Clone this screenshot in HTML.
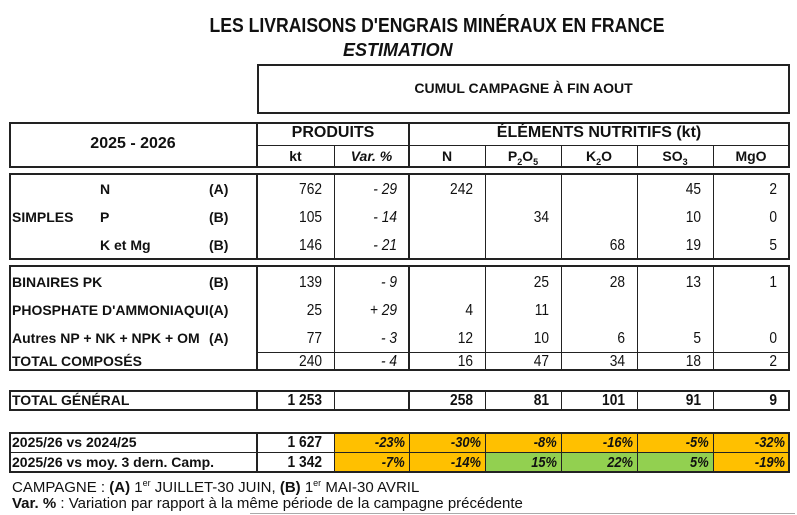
<!DOCTYPE html>
<html><head><meta charset="utf-8">
<style>
body{margin:0;width:797px;height:515px;background:#fff;position:relative;overflow:hidden;font-family:"Liberation Sans",sans-serif;color:#111}
.box{position:absolute;border:2px solid #222;box-sizing:border-box}
.vl{position:absolute;background:#222;width:1px}
.vt{position:absolute;background:#222;width:2px}
.hl{position:absolute;background:#222;height:1px}
.t{position:absolute;font-size:14px;line-height:16px;white-space:nowrap}
.b{font-weight:bold}
.c{text-align:center}
.r{text-align:right}
.i{font-style:italic}
.num{font-size:16px;transform:scaleX(0.86);transform-origin:right center}
sup{font-size:9px;line-height:0;vertical-align:6px}
.cell{position:absolute;box-sizing:border-box;font-size:15px;line-height:21px;text-align:right;padding-right:4px;font-weight:bold;font-style:italic}
.cell span{display:inline-block;transform:scaleX(0.86);transform-origin:right center}
</style></head><body>
<div class="t b c" style="left:150px;width:574px;top:15px;font-size:20px;line-height:22px;transform:scaleX(0.88)">LES LIVRAISONS D'ENGRAIS MINÉRAUX EN FRANCE</div>
<div class="t b i" style="left:343px;top:40px;font-size:18px;line-height:20px">ESTIMATION</div>
<div class="box" style="left:257px;top:64px;width:533px;height:50px"></div>
<div class="t b c" style="left:257px;width:533px;top:80px">CUMUL CAMPAGNE À FIN AOUT</div>

<div class="box" style="left:9px;top:122px;width:781px;height:46px"></div>
<div class="vt" style="left:256px;top:122px;height:46px"></div>
<div class="vt" style="left:408px;top:122px;height:46px"></div>
<div class="hl" style="left:257px;top:145px;width:532px"></div>
<div class="vl" style="left:334px;top:145px;height:22px"></div>
<div class="vl" style="left:485px;top:145px;height:22px"></div>
<div class="vl" style="left:561px;top:145px;height:22px"></div>
<div class="vl" style="left:637px;top:145px;height:22px"></div>
<div class="vl" style="left:713px;top:145px;height:22px"></div>
<div class="t b c" style="left:9px;width:248px;top:136px;font-size:16px">2025 - 2026</div>
<div class="t b c" style="left:257px;width:152px;top:125px;font-size:16px">PRODUITS</div>
<div class="t b c" style="left:409px;width:380px;top:125px;font-size:16px">ÉLÉMENTS NUTRITIFS (kt)</div>
<div class="t b c" style="left:257px;width:77px;top:148px">kt</div>
<div class="t b c i" style="left:334px;width:75px;top:148px">Var. %</div>
<div class="t b c" style="left:409px;width:76px;top:148px">N</div>
<div class="t b c" style="left:485px;width:76px;top:148px">P<sub style="font-size:9px">2</sub>O<sub style="font-size:9px">5</sub></div>
<div class="t b c" style="left:561px;width:76px;top:148px">K<sub style="font-size:9px">2</sub>O</div>
<div class="t b c" style="left:637px;width:76px;top:148px">SO<sub style="font-size:9px">3</sub></div>
<div class="t b c" style="left:713px;width:76px;top:148px">MgO</div>

<div class="box" style="left:9px;top:173px;width:781px;height:87px"></div>
<div class="vt" style="left:256px;top:173px;height:87px"></div>
<div class="vt" style="left:408px;top:173px;height:87px"></div>
<div class="vl" style="left:334px;top:173px;height:87px"></div>
<div class="vl" style="left:485px;top:173px;height:87px"></div>
<div class="vl" style="left:561px;top:173px;height:87px"></div>
<div class="vl" style="left:637px;top:173px;height:87px"></div>
<div class="vl" style="left:713px;top:173px;height:87px"></div>
<div class="t b" style="left:12px;top:209px">SIMPLES</div>
<div class="t b" style="left:100px;top:181px">N</div><div class="t b" style="left:209px;top:181px">(A)</div>
<div class="t b" style="left:100px;top:209px">P</div><div class="t b" style="left:209px;top:209px">(B)</div>
<div class="t b" style="left:100px;top:237px">K et Mg</div><div class="t b" style="left:209px;top:237px">(B)</div>

<div class="box" style="left:9px;top:265px;width:781px;height:106px"></div>
<div class="vt" style="left:256px;top:265px;height:106px"></div>
<div class="vt" style="left:408px;top:265px;height:106px"></div>
<div class="vl" style="left:334px;top:265px;height:106px"></div>
<div class="vl" style="left:485px;top:265px;height:106px"></div>
<div class="vl" style="left:561px;top:265px;height:106px"></div>
<div class="vl" style="left:637px;top:265px;height:106px"></div>
<div class="vl" style="left:713px;top:265px;height:106px"></div>
<div class="hl" style="left:257px;top:352px;width:532px"></div>
<div class="t b" style="left:12px;top:274px">BINAIRES PK</div><div class="t b" style="left:209px;top:274px">(B)</div>
<div class="t b" style="left:12px;top:302px">PHOSPHATE D'AMMONIAQUI</div><div class="t b" style="left:209px;top:302px">(A)</div>
<div class="t b" style="left:12px;top:330px">Autres NP + NK + NPK + OM</div><div class="t b" style="left:209px;top:330px">(A)</div>
<div class="t b" style="left:12px;top:353px">TOTAL COMPOSÉS</div>

<div class="box" style="left:9px;top:390px;width:781px;height:21px"></div>
<div class="vt" style="left:256px;top:390px;height:21px"></div>
<div class="vt" style="left:408px;top:390px;height:21px"></div>
<div class="vl" style="left:334px;top:390px;height:21px"></div>
<div class="vl" style="left:485px;top:390px;height:21px"></div>
<div class="vl" style="left:561px;top:390px;height:21px"></div>
<div class="vl" style="left:637px;top:390px;height:21px"></div>
<div class="vl" style="left:713px;top:390px;height:21px"></div>
<div class="t b" style="left:12px;top:392px">TOTAL GÉNÉRAL</div>

<div id="cmp"></div>
<div class="box" style="left:9px;top:432px;width:781px;height:41px"></div>
<div class="hl" style="left:10px;top:452px;width:779px"></div>
<div class="vt" style="left:256px;top:432px;height:41px"></div>
<div class="vl" style="left:334px;top:432px;height:41px"></div>
<div class="vl" style="left:409px;top:432px;height:41px"></div>
<div class="vl" style="left:485px;top:432px;height:41px"></div>
<div class="vl" style="left:561px;top:432px;height:41px"></div>
<div class="vl" style="left:637px;top:432px;height:41px"></div>
<div class="vl" style="left:713px;top:432px;height:41px"></div>
<div class="t b" style="left:12px;top:434px">2025/26 vs 2024/25</div>
<div class="t b" style="left:12px;top:454px">2025/26 vs moy. 3 dern. Camp.</div>

<div class="t" style="left:12px;top:479px;font-size:15px;line-height:17px">CAMPAGNE : <b>(A)</b> 1<sup>er</sup> JUILLET-30 JUIN, <b>(B)</b> 1<sup>er</sup> MAI-30 AVRIL</div>
<div class="t" style="left:12px;top:495px;font-size:15px;line-height:17px"><b>Var. %</b> : Variation par rapport à la même période de la campagne précédente</div>
<div class="hl" style="left:250px;top:513px;width:545px;background:#aaa"></div>

<div id="vals"></div>
<script>
const rowTops = [181,209,237,274,302,330,353,392];
const ktVals = ["762","105","146","139","25","77","240","1 253"];
const varVals = ["- 29","- 14","- 21","- 9","+ 29","- 3","- 4",""];
const nVals = ["242","","","","4","12","16","258"];
const pVals = ["","34","","25","11","10","47","81"];
const kVals = ["","","68","28","","6","34","101"];
const sVals = ["45","10","19","13","","5","18","91"];
const mVals = ["2","0","5","1","","0","2","9"];
const cmpKt = ["1 627","1 342"];
const cmpRow1 = ["-23%","-30%","-8%","-16%","-5%","-32%"];
const cmpRow2 = ["-7%","-14%","15%","22%","5%","-19%"];

const colL = [257,334,409,485,561,637,713];
const colR = [334,409,485,561,637,713,789];
const host = document.getElementById('vals');
function txt(ci, top, s, extra){
  const d = document.createElement('div');
  d.className = 't r num' + (extra||'');
  d.style.left = colL[ci] + 'px';
  d.style.width = (colR[ci]-colL[ci]-12) + 'px';
  d.style.top = (top + 1) + 'px';
  d.textContent = s;
  
  
  host.appendChild(d);
}
const series = [ktVals,varVals,nVals,pVals,kVals,sVals,mVals];
rowTops.forEach((top, r) => {
  series.forEach((arr, ci) => {
    if (!arr[r]) return;
    let ex = '';
    if (ci === 1) ex += ' i';
    if (r === 7) ex += ' b';
    txt(ci, top, arr[r], ex);
  });
});
const cmp = document.getElementById('cmp');
[cmpRow1, cmpRow2].forEach((row, r) => {
  const top = 432 + r*20;
  txt(0, top + 2, cmpKt[r], ' b');
  row.forEach((v, j) => {
    const d = document.createElement('div');
    d.className = 'cell';
    const num = parseFloat(v);
    d.style.background = num < 0 ? '#FFC000' : '#92D050';
    d.style.left = colL[j+1] + 'px';
    d.style.width = (colR[j+1]-colL[j+1]) + 'px';
    d.style.top = top + 'px';
    d.style.height = '20px';
    const s = document.createElement('span');
    s.textContent = v;
    d.appendChild(s);
    
    
    cmp.appendChild(d);
  });
});
</script>
</body></html>
